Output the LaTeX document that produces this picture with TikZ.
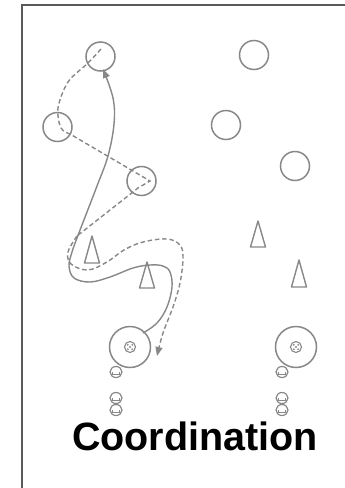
\documentclass[tikz,border=0pt]{standalone}
\usepackage{fontspec}
\setmainfont{Liberation Sans}
\usetikzlibrary{arrows.meta,calc}
\definecolor{lg}{HTML}{888888}
\definecolor{fr}{HTML}{5A5A5A}
\tikzset{
  disc/.style={circle,draw=lg,line width=1.5pt,minimum size=29pt,inner sep=0pt},
  ring/.style={circle,draw=lg,line width=1.5pt,minimum size=41pt,inner sep=0pt},
  run/.style={draw=lg,line width=1.4pt,-{Triangle[length=9pt,width=7pt]}},
  pass/.style={draw=lg,line width=1.4pt,dash pattern=on 4.5pt off 2.8pt,-{Triangle[length=9pt,width=7pt]}},
  cone/.style={draw=lg,line width=1.4pt,line join=round},
  lbl/.style={font=\fontsize{39.5}{40}\selectfont\bfseries,text=black,inner sep=0pt,anchor=base west}
}
\newcommand{\ballpic}[1]{%
  \draw[lg,line width=1.1pt] (#1) circle (5.5pt);
  \fill[lg] (#1) circle (1.2pt);
  \foreach \a in {45,135,225,315} \fill[lg] ($(#1)+(\a:3.1pt)$) circle (1pt);
}
\newcommand{\playerpic}[2]{%
  \draw[lg,line width=1.2pt] (#1,#2) ellipse (6pt and 5.5pt);
  \draw[lg,line width=0.9pt] ($(#1,#2)+(-3.2,-0.5)$) -- ($(#1,#2)+(-3.2,2)$) -- ($(#1,#2)+(3.2,2)$) -- ($(#1,#2)+(3.2,-0.5)$);
}
\begin{document}
\begin{tikzpicture}[x=1pt,y=-1pt]
\useasboundingbox (0,0) rectangle (345,488);
\fill[white] (0,0) rectangle (345,488);
% frame
\draw[fr,line width=1.3pt] (22,488) -- (22,5) -- (345,5);
% field circles
\node[disc] (A) at (100.5,56.5) {};
\node[disc] (B) at (57.5,127) {};
\node[disc] (C) at (141.5,181) {};
\node[disc] (R1) at (254,55) {};
\node[disc] (R2) at (226,125) {};
\node[disc] (R3) at (295,166) {};
% cones
\draw[cone] (92,236) -- (99.5,263) -- (84.5,263) -- cycle;
\draw[cone] (147,262) -- (154.5,288) -- (139.5,288) -- cycle;
\draw[cone] (258,221) -- (265.5,247) -- (250.5,247) -- cycle;
\draw[cone] (299,260) -- (306.5,287) -- (291.5,287) -- cycle;
% ball rings
\node[ring] (L) at (130,347) {};
\node[ring] (R) at (296,347) {};
\coordinate (lb) at (130,347);
\coordinate (rb) at (296,347);
\ballpic{lb}
\ballpic{rb}
% players
\playerpic{116}{372}
\playerpic{116}{398}
\playerpic{116}{410}
\playerpic{282}{372}
\playerpic{282}{398}
\playerpic{282}{410}
% dashed pass path
\coordinate (ps) at (101,49);
\coordinate (pe) at (157,356);
\draw[pass] plot[smooth,tension=0.55] coordinates {(ps) (88,63) (68,82) (58,108) (61,128) (70,134)}
  -- (150,181) -- (138,188) -- (77,236)
  plot[smooth,tension=0.6] coordinates {(77,236) (68,252) (71,264) (88,270) (107,262) (124,250) (143,242) (167,239) (180,245) (183,258) (180,283) (173,307) (163,333) (pe)};
% solid run path
\coordinate (rs) at (143,333);
\coordinate (re) at (103,69);
\draw[run] plot[smooth,tension=0.6] coordinates {(rs) (157,323) (167,307) (172,287) (170,272) (163,266) (150,265) (133,268) (110,277) (90,282) (74,278) (69,266) (72,252) (77,238) (87,212) (97,186) (108,156) (114,124) (113,98) (re)};
% title
\node[lbl] (T) at (72,450) {Coordination};
\end{tikzpicture}
\end{document}
